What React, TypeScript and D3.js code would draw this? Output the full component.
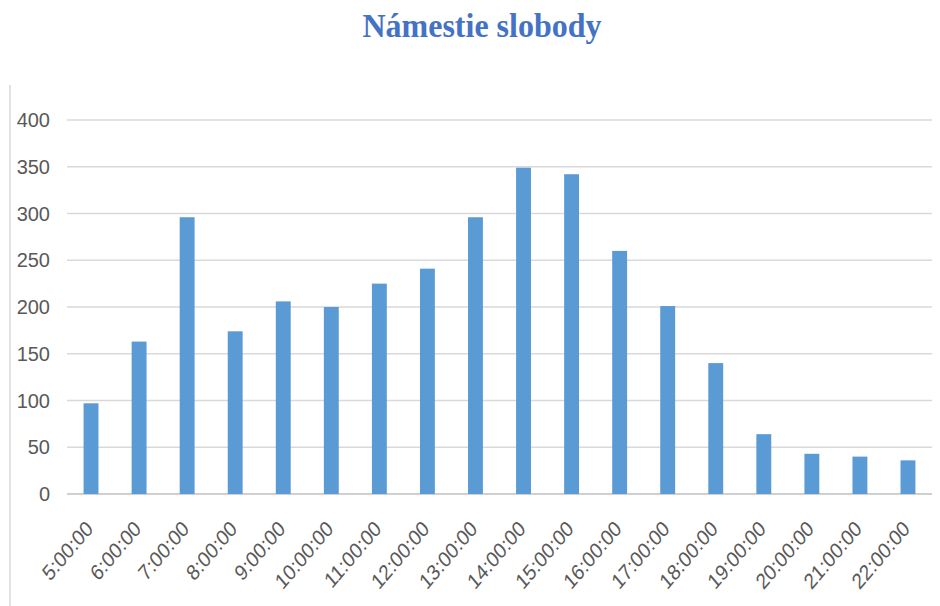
import React from "react";
import * as d3 from "d3";

const categories = ["5:00:00","6:00:00","7:00:00","8:00:00","9:00:00","10:00:00","11:00:00","12:00:00","13:00:00","14:00:00","15:00:00","16:00:00","17:00:00","18:00:00","19:00:00","20:00:00","21:00:00","22:00:00"];
const values = [97,163,296,174,206,200,225,241,296,349,342,260,201,140,64,43,40,36];
const yTicks = [0,50,100,150,200,250,300,350,400];
const title = "Námestie slobody";

const W = 940, H = 606;
const left = 67, right = 932, top = 120, bottom = 494;

export default function App() {
  const x = d3.scaleBand<string>().domain(categories).range([left, right]).paddingInner(0.69).paddingOuter(0.345);
  const y = d3.scaleLinear().domain([0, 400]).range([bottom, top]);
  const font = "'Liberation Sans Narrow', 'Liberation Sans', Arial, sans-serif";
  return (
    <svg width={W} height={H} style={{ position: "absolute", left: 0, top: 0, background: "#fff" }}>
      <line x1={10} x2={10} y1={85} y2={H} stroke="#d9d9d9" strokeWidth={1.5} />
      <text x={0} y={0} textAnchor="middle" fontFamily="'Liberation Serif', 'Times New Roman', serif" fontWeight="bold" fontSize={33} fill="#4472C4" transform="translate(482,37) scale(0.97,1)">{title}</text>
      {yTicks.map(t => (
        <g key={t}>
          <line x1={left} x2={right} y1={y(t)} y2={y(t)} stroke={t === 0 ? "#d0d0d0" : "#d9d9d9"} strokeWidth={t === 0 ? 2 : 1.5} />
          <text x={50} y={y(t)} dy="0.35em" textAnchor="end" fontFamily={font} fontSize={20} fill="#595959">{t}</text>
        </g>
      ))}
      {categories.map((c, i) => (
        <rect key={c} x={x(c)!} y={y(values[i])} width={x.bandwidth()} height={bottom - y(values[i])} fill="#5B9BD5" />
      ))}
      {categories.map(c => {
        const cx = x(c)! + x.bandwidth() / 2 + 3;
        const cy = 530;
        return (
          <text key={c} x={0} y={0} textAnchor="end" fontFamily={font} fontSize={22} fill="#595959" transform={`translate(${cx},${cy}) scale(0.85,1) rotate(-45)`}>{c}</text>
        );
      })}
    </svg>
  );
}
